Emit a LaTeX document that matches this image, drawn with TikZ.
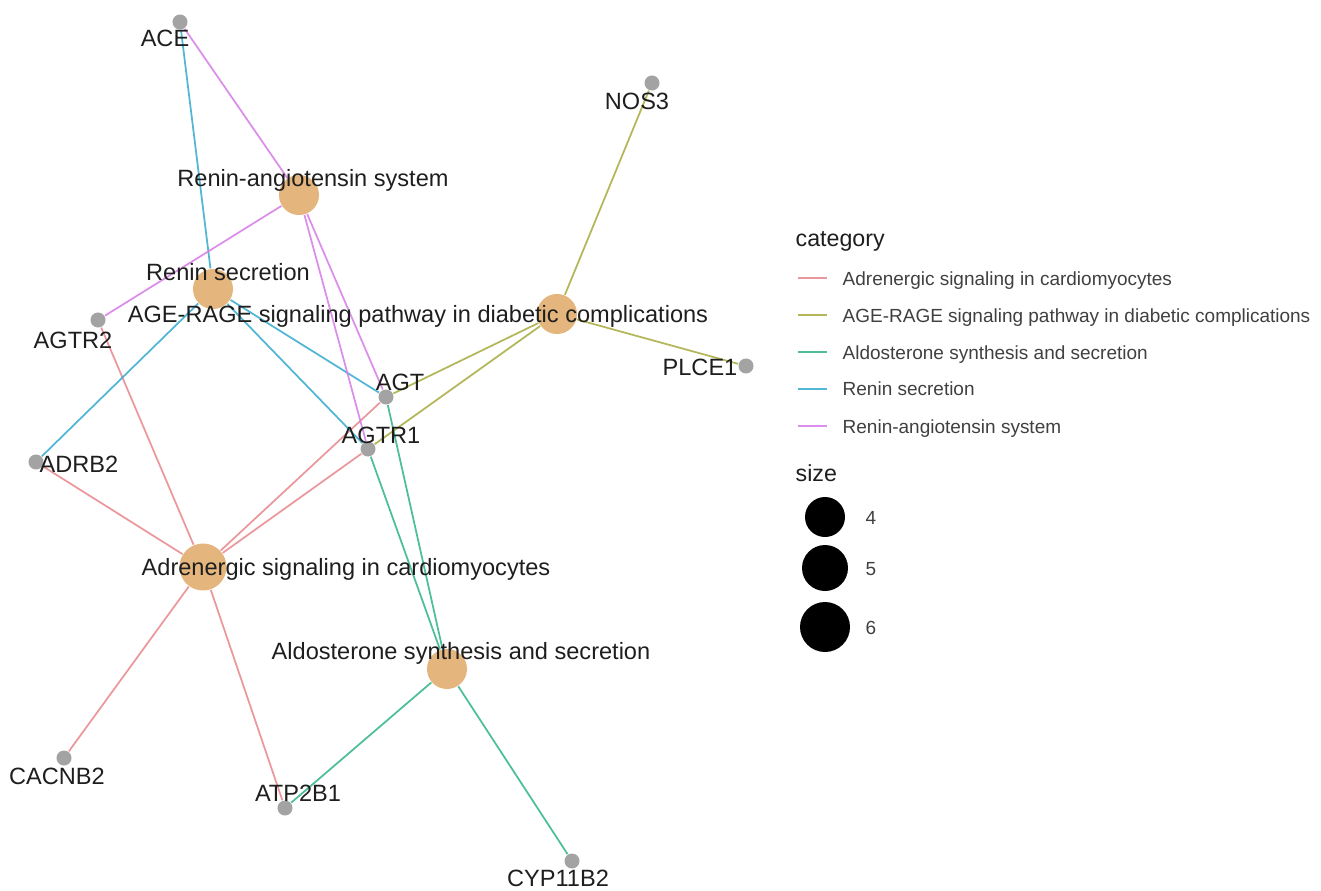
\documentclass[tikz,border=0pt]{standalone}
\usepackage{fontspec}
\setmainfont{Liberation Sans}
\usepackage{xcolor}
\usepackage{tikz}
\usetikzlibrary{positioning}

\definecolor{adrred}{HTML}{E8868C}
\definecolor{ageolive}{HTML}{A6AA3C}
\definecolor{aldogreen}{HTML}{2DB487}
\definecolor{renblue}{HTML}{34A9CF}
\definecolor{rasviolet}{HTML}{D57BE6}
\definecolor{cattan}{HTML}{E4B57D}
\definecolor{dotgrey}{HTML}{A3A3A3}
\definecolor{labeltext}{HTML}{1E1E1E}

\tikzset{
  catnode/.style={circle, fill=cattan, inner sep=0pt, minimum size=4mm},
  genenode/.style={circle, fill=dotgrey, inner sep=0pt, minimum size=1.5mm},
  netlabel/.style={font=\fontsize{6.7}{8}\selectfont, text=labeltext, inner sep=0pt, anchor=base},
  legtitle/.style={font=\fontsize{6.6}{8}\selectfont, text=labeltext, inner sep=0pt, anchor=base west},
  legtext/.style={font=\fontsize{5.4}{6.5}\selectfont, text=labeltext!85, inner sep=0pt, anchor=base west},
  edgeline/.style={line width=0.5pt, draw opacity=0.85},
  adredge/.style={edgeline, draw=adrred},
  ageedge/.style={edgeline, draw=ageolive},
  aldoedge/.style={edgeline, draw=aldogreen},
  renedge/.style={edgeline, draw=renblue},
  rasedge/.style={edgeline, draw=rasviolet}
}

\begin{document}
\begin{tikzpicture}[x=0.01cm, y=-0.01cm]

    \useasboundingbox (0,0) rectangle (1321,891);

    % =================================================================
    % 1. CATEGORY NODES (PATHWAYS)
    % =================================================================
    \node[catnode] (ras) at (299,195) {};
    \node[catnode] (rensec) at (213,289) {};
    \node[catnode] (agerage) at (557,314) {};
    \node[catnode, minimum size=4.7mm] (adren) at (203,567) {};
    \node[catnode] (aldo) at (447,669) {};

    % =================================================================
    % 2. GENE NODES (GREY DOTS)
    % =================================================================
    \node[genenode] (ace) at (180,22) {};
    \node[genenode] (nos3) at (652,83) {};
    \node[genenode] (agtr2) at (98,320) {};
    \node[genenode] (plce1) at (746,366) {};
    \node[genenode] (agt) at (386,397) {};
    \node[genenode] (agtr1) at (368,449) {};
    \node[genenode] (adrb2) at (36,462) {};
    \node[genenode] (cacnb2) at (64,758) {};
    \node[genenode] (atp2b1) at (285,808) {};
    \node[genenode] (cyp11b2) at (572,861) {};

    % =================================================================
    % 3. EDGES, ONE COLOUR PER CATEGORY
    % =================================================================
    % Adrenergic signaling in cardiomyocytes
    \draw[adredge] (adren) -- (adrb2);
    \draw[adredge] (adren) -- (agtr2);
    \draw[adredge] (adren) -- (agt);
    \draw[adredge] (adren) -- (agtr1);
    \draw[adredge] (adren) -- (cacnb2);
    \draw[adredge] (adren) -- (atp2b1);

    % AGE-RAGE signaling pathway
    \draw[ageedge] (agerage) -- (nos3);
    \draw[ageedge] (agerage) -- (plce1);
    \draw[ageedge] (agerage) -- (agt);
    \draw[ageedge] (agerage) -- (agtr1);

    % Aldosterone synthesis and secretion
    \draw[aldoedge] (aldo) -- (agt);
    \draw[aldoedge] (aldo) -- (agtr1);
    \draw[aldoedge] (aldo) -- (atp2b1);
    \draw[aldoedge] (aldo) -- (cyp11b2);

    % Renin secretion
    \draw[renedge] (rensec) -- (ace);
    \draw[renedge] (rensec) -- (adrb2);
    \draw[renedge] (rensec) -- (agt);
    \draw[renedge] (rensec) -- (agtr1);

    % Renin-angiotensin system
    \draw[rasedge] (ras) -- (ace);
    \draw[rasedge] (ras) -- (agtr2);
    \draw[rasedge] (ras) -- (agt);
    \draw[rasedge] (ras) -- (agtr1);

    % =================================================================
    % 4. NODE LABELS
    % =================================================================
    \node[netlabel] (ras-l) at (313,186) {Renin-angiotensin system};
    \node[netlabel] (rensec-l) at (228,281) {Renin secretion};
    \node[netlabel] (agerage-l) at (418,323) {AGE-RAGE signaling pathway in diabetic complications};
    \node[netlabel] (adren-l) at (346,575) {Adrenergic signaling in cardiomyocytes};
    \node[netlabel] (aldo-l) at (461,659) {Aldosterone synthesis and secretion};

    \node[netlabel] (ace-l) at (165,47) {ACE};
    \node[netlabel] (nos3-l) at (637,110) {NOS3};
    \node[netlabel] (agtr2-l) at (73,348) {AGTR2};
    \node[netlabel] (plce1-l) at (700,375) {PLCE1};
    \node[netlabel] (agt-l) at (400,390) {AGT};
    \node[netlabel] (agtr1-l) at (381,443) {AGTR1};
    \node[netlabel] (adrb2-l) at (79,472) {ADRB2};
    \node[netlabel] (cacnb2-l) at (57,784) {CACNB2};
    \node[netlabel] (atp2b1-l) at (298,801) {ATP2B1};
    \node[netlabel] (cyp11b2-l) at (558,886) {CYP11B2};

    % =================================================================
    % 5. LEGEND
    % =================================================================
    \node[legtitle] (cat-title) at (795,246) {category};

    \draw[adredge, line width=0.6pt] (798,278) -- (827,278);
    \draw[ageedge, line width=0.6pt] (798,315) -- (827,315);
    \draw[aldoedge, line width=0.6pt] (798,352) -- (827,352);
    \draw[renedge, line width=0.6pt] (798,389) -- (827,389);
    \draw[rasedge, line width=0.6pt] (798,426) -- (827,426);

    \node[legtext] (leg-adren) at (842,285) {Adrenergic signaling in cardiomyocytes};
    \node[legtext] (leg-agerage) at (842,322) {AGE-RAGE signaling pathway in diabetic complications};
    \node[legtext] (leg-aldo) at (842,359) {Aldosterone synthesis and secretion};
    \node[legtext] (leg-rensec) at (842,396) {Renin secretion};
    \node[legtext] (leg-ras) at (842,433) {Renin-angiotensin system};

    \node[legtitle] (size-title) at (795,481) {size};

    \fill (825,517) circle (20);
    \fill (825,568) circle (23);
    \fill (825,627) circle (25);

    \node[legtext] (size4) at (865,524) {4};
    \node[legtext] (size5) at (865,575) {5};
    \node[legtext] (size6) at (865,634) {6};

\end{tikzpicture}
\end{document}
